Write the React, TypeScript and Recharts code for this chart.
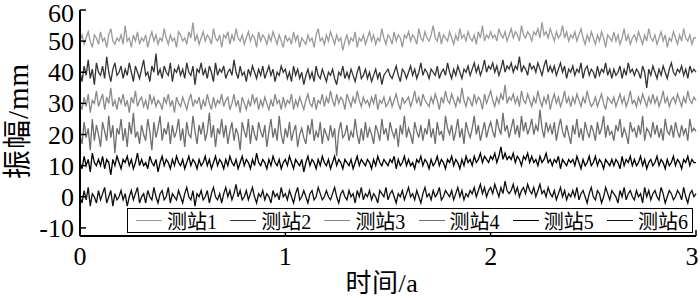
import { LineChart, Line, XAxis, YAxis, Legend } from 'recharts';

const FONT = "'Liberation Serif', 'Noto Sans CJK SC', serif";

const seriesNames = ['测站1', '测站2', '测站3', '测站4', '测站5', '测站6'];
const seriesColors = ['#9a9a9a', '#333333', '#8a8a8a', '#6e6e6e', '#000000', '#111111'];
const xTicks = [0, 1, 2, 3];
const yTicks = [-10, 0, 10, 20, 30, 40, 50, 60];

// amplitude (mm), one sample every 0.01 a
const s1 = [
  50, 52, 49, 51, 53, 50, 48, 52, 51, 49,
  53, 50, 51, 48, 52, 54, 50, 49, 51, 50,
  52, 49, 55, 50, 51, 48, 52, 50, 53, 49,
  51, 50, 52, 48, 51, 53, 50, 52, 49, 51,
  50, 54, 51, 49, 52, 50, 51, 48, 53, 52,
  50, 51, 49, 53, 51, 56, 50, 52, 49, 51,
  53, 50, 52, 51, 49, 54, 51, 50, 52, 48,
  52, 51, 53, 49, 52, 50, 54, 51, 50, 52,
  49, 51, 53, 50, 52, 51, 48, 53, 50, 52,
  51, 49, 52, 50, 53, 51, 49, 52, 50, 48,
  52, 50, 51, 49, 53, 50, 52, 48, 51, 50,
  49, 52, 50, 51, 48, 52, 54, 50, 51, 49,
  52, 50, 53, 51, 49, 52, 50, 51, 47, 50,
  52, 49, 51, 50, 53, 48, 51, 50, 52, 49,
  51, 53, 50, 52, 49, 51, 50, 54, 51, 49,
  52, 51, 49, 53, 50, 52, 51, 48, 52, 51,
  53, 50, 52, 51, 49, 54, 51, 50, 53, 51,
  50, 52, 55, 51, 50, 53, 49, 52, 51, 50,
  53, 51, 49, 52, 50, 54, 51, 52, 50, 53,
  51, 50, 52, 49, 53, 51, 55, 50, 52, 51,
  53, 51, 52, 50, 54, 52, 51, 53, 50, 52,
  54, 51, 53, 52, 50, 55, 52, 51, 53, 52,
  50, 53, 52, 54, 51, 56, 52, 53, 51, 54,
  52, 50, 53, 51, 52, 55, 51, 53, 50, 52,
  51, 53, 50, 52, 54, 51, 49, 52, 50, 53,
  51, 49, 52, 50, 53, 51, 48, 52, 51, 50,
  53, 50, 52, 49, 51, 54, 50, 52, 49, 51,
  52, 50, 53, 51, 49, 52, 50, 54, 51, 50,
  52, 49, 51, 53, 50, 52, 48, 51, 50, 53,
  51, 49, 52, 50, 54, 51, 50, 52, 49, 51,
  51,
];
const s2 = [
  40, 37, 42, 39, 44, 38, 41, 36, 43, 40,
  39, 42, 38, 45, 40, 37, 41, 43, 39, 40,
  42, 38, 41, 39, 43, 40, 37, 42, 40, 38,
  41, 44, 39, 40, 37, 42, 40, 46, 39, 41,
  38, 42, 40, 39, 43, 37, 41, 40, 42, 39,
  41, 38, 43, 40, 39, 42, 36, 41, 40, 43,
  39, 41, 38, 42, 40, 37, 43, 39, 41, 40,
  42, 38, 40, 41, 39, 44, 40, 38, 42, 39,
  40, 37, 41, 39, 42, 40, 38, 41, 39, 42,
  38, 40, 42, 39, 41, 37, 40, 39, 42, 40,
  41, 38, 40, 37, 42, 39, 41, 38, 40, 36,
  39, 41, 38, 40, 37, 42, 39, 38, 41, 39,
  37, 40, 39, 41, 38, 36, 40, 39, 42, 38,
  40, 38, 41, 39, 37, 40, 42, 38, 39, 41,
  38, 40, 37, 39, 41, 38, 40, 36, 39, 40,
  41, 39, 38, 40, 42, 39, 37, 41, 40, 38,
  40, 42, 39, 41, 38, 40, 43, 39, 41, 40,
  38, 41, 40, 39, 42, 38, 40, 41, 39, 43,
  40, 38, 41, 39, 42, 40, 38, 41, 40, 42,
  39, 41, 43, 40, 42, 39, 41, 44, 40, 42,
  41, 43, 40, 42, 39, 41, 44, 40, 42, 41,
  43, 40, 42, 41, 45, 40, 42, 41, 39, 43,
  41, 42, 40, 43, 41, 39, 42, 44, 40, 42,
  40, 42, 39, 41, 43, 40, 42, 38, 41, 40,
  42, 39, 41, 40, 43, 38, 41, 42, 39, 41,
  40, 38, 42, 39, 41, 40, 43, 39, 41, 38,
  41, 39, 40, 42, 38, 41, 39, 43, 40, 41,
  39, 41, 40, 38, 42, 40, 35, 41, 39, 42,
  40, 38, 41, 39, 42, 40, 38, 41, 43, 40,
  39, 41, 40, 42, 39, 41, 38, 42, 40, 41,
  40,
];
const s3 = [
  30, 28, 32, 29, 33, 27, 31, 30, 34, 29,
  31, 33, 28, 32, 30, 35, 29, 31, 28, 32,
  30, 33, 29, 31, 27, 32, 30, 34, 29, 31,
  32, 29, 31, 28, 33, 30, 32, 29, 31, 30,
  28, 32, 30, 33, 29, 31, 27, 32, 30, 29,
  32, 30, 28, 31, 33, 29, 31, 30, 32, 28,
  31, 29, 33, 30, 28, 32, 29, 31, 30, 33,
  29, 31, 32, 28, 30, 33, 29, 31, 27, 32,
  30, 28, 31, 29, 33, 30, 32, 28, 31, 29,
  32, 30, 28, 31, 29, 33, 30, 31, 28, 32,
  29, 31, 30, 33, 28, 31, 29, 32, 30, 28,
  31, 33, 30, 29, 32, 28, 31, 30, 33, 29,
  32, 30, 34, 31, 29, 33, 30, 32, 31, 28,
  33, 31, 29, 32, 30, 34, 31, 29, 32, 30,
  31, 29, 32, 30, 33, 28, 31, 30, 32, 29,
  30, 32, 29, 31, 33, 30, 28, 32, 30, 31,
  32, 29, 31, 34, 30, 32, 29, 33, 31, 30,
  29, 32, 30, 33, 31, 28, 32, 30, 34, 31,
  30, 33, 31, 29, 32, 30, 35, 31, 29, 32,
  31, 29, 33, 30, 32, 31, 28, 33, 30, 32,
  34, 31, 29, 32, 30, 33, 31, 36, 30, 32,
  31, 33, 30, 32, 29, 34, 31, 30, 33, 31,
  29, 32, 30, 34, 31, 29, 32, 30, 33, 28,
  31, 33, 30, 32, 29, 31, 34, 30, 32, 29,
  32, 30, 33, 31, 29, 32, 30, 34, 31, 29,
  30, 32, 29, 31, 33, 30, 28, 32, 31, 30,
  32, 29, 31, 33, 30, 32, 29, 31, 34, 30,
  31, 29, 32, 30, 33, 31, 29, 32, 30, 33,
  30, 32, 29, 31, 34, 30, 32, 29, 31, 32,
  30, 33, 31, 29, 32, 30, 34, 31, 30, 32,
  31,
];
const s4 = [
  20, 17, 24, 19, 22, 15, 25, 18, 23, 20,
  16, 24, 21, 18, 26, 19, 23, 14, 22, 20,
  25, 18, 22, 16, 24, 20, 27, 19, 21, 17,
  23, 20, 18, 25, 21, 15, 24, 19, 22, 26,
  18, 22, 20, 24, 17, 23, 19, 21, 25, 18,
  22, 16, 24, 20, 19, 26, 21, 17, 23, 20,
  24, 18, 21, 27, 19, 23, 16, 22, 20, 25,
  19, 23, 17, 21, 24, 18, 22, 20, 15, 24,
  21, 19, 25, 17, 23, 20, 18, 24, 21, 19,
  23, 16, 21, 25, 19, 22, 18, 26, 20, 17,
  22, 19, 24, 18, 21, 23, 16, 20, 22, 19,
  17, 23, 20, 25, 18, 21, 19, 24, 17, 22,
  20, 18, 23, 19, 22, 13, 21, 24, 19, 20,
  23, 18, 21, 19, 25, 20, 17, 22, 18, 24,
  19, 22, 20, 17, 23, 21, 18, 25, 20, 22,
  18, 24, 21, 19, 22, 16, 23, 20, 26, 19,
  22, 20, 17, 24, 21, 19, 23, 18, 22, 20,
  25, 19, 22, 17, 24, 20, 21, 18, 26, 22,
  20, 23, 18, 21, 25, 19, 22, 17, 24, 21,
  19, 22, 26, 20, 23, 18, 21, 24, 19, 22,
  24, 21, 19, 25, 22, 20, 27, 21, 23, 19,
  22, 25, 20, 23, 19, 26, 21, 24, 20, 22,
  25, 20, 23, 21, 28, 22, 19, 24, 21, 23,
  20, 24, 18, 22, 25, 21, 19, 23, 20, 17,
  23, 20, 25, 19, 22, 18, 24, 21, 19, 23,
  21, 18, 24, 20, 22, 26, 19, 23, 20, 21,
  18, 23, 21, 25, 19, 22, 20, 17, 24, 21,
  22, 19, 23, 20, 26, 18, 22, 21, 19, 24,
  20, 23, 19, 22, 18, 25, 21, 20, 23, 19,
  24, 21, 19, 23, 20, 22, 18, 25, 21, 22,
  21,
];
const s5 = [
  11, 9, 13, 10, 12, 8, 14, 11, 10, 12,
  10, 13, 9, 12, 11, 7, 12, 10, 13, 11,
  9, 12, 11, 13, 10, 12, 9, 11, 14, 10,
  12, 10, 11, 9, 13, 11, 10, 12, 8, 11,
  13, 10, 12, 11, 9, 12, 10, 13, 11, 10,
  12, 9, 11, 13, 10, 12, 11, 9, 12, 10,
  11, 13, 10, 12, 9, 11, 13, 10, 12, 11,
  9, 12, 10, 13, 11, 10, 12, 9, 11, 13,
  10, 12, 11, 9, 12, 10, 14, 11, 10, 12,
  11, 9, 12, 10, 13, 11, 10, 12, 9, 11,
  12, 10, 13, 11, 9, 12, 11, 10, 12, 8,
  11, 13, 10, 12, 11, 9, 12, 10, 13, 11,
  10, 12, 9, 11, 13, 10, 12, 11, 9, 12,
  11, 10, 12, 9, 11, 13, 10, 12, 11, 10,
  12, 11, 9, 12, 10, 13, 11, 10, 12, 11,
  10, 12, 11, 13, 9, 12, 10, 11, 13, 10,
  12, 10, 11, 9, 12, 11, 13, 10, 12, 11,
  9, 12, 10, 11, 13, 10, 12, 11, 9, 12,
  11, 13, 10, 12, 11, 9, 12, 10, 13, 11,
  12, 10, 13, 11, 12, 14, 11, 13, 12, 11,
  13, 12, 14, 11, 13, 16, 12, 14, 12, 13,
  12, 14, 11, 13, 12, 10, 13, 12, 14, 11,
  13, 11, 12, 10, 13, 11, 12, 14, 11, 12,
  10, 12, 11, 13, 9, 12, 11, 10, 12, 11,
  12, 10, 13, 11, 9, 12, 10, 11, 13, 10,
  11, 13, 10, 12, 11, 9, 12, 11, 10, 12,
  10, 12, 11, 9, 13, 10, 12, 11, 13, 10,
  12, 10, 11, 13, 10, 12, 9, 11, 12, 10,
  11, 13, 10, 12, 11, 9, 12, 10, 11, 13,
  10, 12, 11, 9, 12, 11, 13, 10, 12, 11,
  11,
];
const s6 = [
  0, -2, 2, -1, 3, -3, 1, 0, -2, 2,
  -1, 1, 3, -2, 0, 2, -3, 1, -1, 0,
  2, -1, 1, -3, 0, 2, -1, 1, 3, -2,
  0, 1, -2, 2, 0, -1, 3, 0, -2, 1,
  2, -1, 0, 3, -2, 1, 0, -1, 2, 0,
  -2, 1, 3, 0, -1, 2, -3, 1, 0, 2,
  -1, 0, 2, -2, 1, 3, 0, -1, 1, -2,
  1, 3, 0, 2, -1, 1, 4, 0, 2, -1,
  0, 2, -1, 1, 3, 0, -2, 1, 0, 2,
  -1, 1, 0, -2, 2, 0, 1, -1, 3, 0,
  1, -1, 2, 0, -2, 1, 3, -1, 0, 2,
  0, -2, 1, 2, -1, 0, 3, 1, -1, 0,
  2, 0, -1, 1, 3, 0, -2, 1, 2, 0,
  -1, 2, 0, 1, -2, 2, 0, 3, -1, 1,
  0, 2, -1, 1, 0, -2, 2, 1, 0, 3,
  -1, 1, 2, 0, -2, 1, 0, 2, -1, 1,
  3, 0, 1, -1, 2, 0, -2, 1, 3, 0,
  1, -1, 2, 0, 1, 3, -1, 0, 2, 1,
  0, 2, -1, 1, 3, 0, 2, -1, 1, 0,
  2, 1, 3, 0, 2, 4, 1, 3, 0, 2,
  3, 1, 4, 2, 0, 3, 1, 5, 2, 1,
  2, 4, 1, 3, 0, 2, 3, 1, 4, 2,
  1, 3, 0, 2, 4, 1, 2, 0, 3, 1,
  0, 2, -1, 1, 3, 0, 2, -1, 1, 0,
  2, 0, 3, -1, 1, 2, 0, -2, 1, 3,
  0, -1, 2, 1, -2, 0, 3, 1, -1, 2,
  1, 0, -2, 2, 0, 3, -1, 1, 2, 0,
  -1, 2, 0, 1, -2, 3, 0, 2, -1, 1,
  2, 0, -1, 3, 1, -2, 0, 2, 1, -1,
  0, 2, 1, -1, 3, 0, -2, 1, 2, 0,
  1,
];

const allSeries = [s1, s2, s3, s4, s5, s6];
const data = s1.map((_, i) => {
  const row: Record<string, number> = { t: (i * 3) / (s1.length - 1) };
  allSeries.forEach((s, k) => { row[seriesNames[k]] = s[i]; });
  return row;
});

function LegendBox() {
  return (
    <div style={{
      display: 'flex', alignItems: 'center', justifyContent: 'space-between',
      border: '1.5px solid #000', background: '#fff', height: 25,
      padding: '0 4px 0 8px', boxSizing: 'border-box',
      fontFamily: FONT, fontSize: 20, color: '#000',
    }}>
      {seriesNames.map((n, k) => (
        <span key={n} style={{ display: 'flex', alignItems: 'center', whiteSpace: 'nowrap' }}>
          <span style={{ display: 'inline-block', width: 26, height: 0, borderTop: `1.5px solid ${seriesColors[k]}`, marginRight: 5 }} />
          {n}
        </span>
      ))}
    </div>
  );
}

function YTitle(props: any) {
  const vb = props.viewBox || { x: 0, y: 10, height: 226 };
  const cx = vb.x + 18;
  const cy = vb.y + vb.height / 2 - 2;
  return (
    <text
      x={cx}
      y={cy}
      transform={`rotate(-90, ${cx}, ${cy})`}
      textAnchor="middle"
      dominantBaseline="central"
      fontSize={29}
      letterSpacing={1}
      fontFamily={FONT}
      fill="#000"
    >
      振幅/mm
    </text>
  );
}

// x tick labels; the last one is nudged left so it stays inside the picture
function XTick(props: any) {
  const { x, y, payload } = props;
  const shift = payload.value === 3 ? -4 : 0;
  return (
    <text x={x + shift} y={y} dy="0.71em" textAnchor="middle" fontSize={26} fontFamily={FONT} fill="#000">
      {payload.value}
    </text>
  );
}

// y tick labels; the top one is nudged down so it is not clipped
function YTick(props: any) {
  const { x, y, payload } = props;
  const shift = payload.value === 60 ? 3 : 0;
  return (
    <text x={x} y={y + shift} dy="0.35em" textAnchor="end" fontSize={26} fontFamily={FONT} fill="#000">
      {payload.value}
    </text>
  );
}

export default function App() {
  return (
    <div style={{ position: 'absolute', left: 0, top: 0, background: '#fff' }}>
      <LineChart width={700} height={301} data={data} margin={{ top: 10, right: 4, left: 0, bottom: 0 }}>
        <XAxis
          dataKey="t"
          type="number"
          domain={[0, 3]}
          ticks={xTicks}
          interval={0}
          height={65}
          tickSize={-6}
          tickMargin={17}
          tick={<XTick />}
          axisLine={{ stroke: '#000', strokeWidth: 2 }}
          tickLine={{ stroke: '#000', strokeWidth: 1.5 }}
          label={{ value: '时间/a', position: 'insideBottom', offset: 9, dx: -6, fontSize: 26, letterSpacing: 0.5, fill: '#000', fontFamily: FONT }}
        />
        <XAxis
          xAxisId="top"
          orientation="top"
          dataKey="t"
          type="number"
          domain={[0, 3]}
          ticks={xTicks}
          interval={0}
          height={0}
          tickSize={-6}
          tickFormatter={() => ''}
          axisLine={{ stroke: '#000', strokeWidth: 2 }}
          tickLine={{ stroke: '#000', strokeWidth: 1.5 }}
        />
        <YAxis
          type="number"
          domain={[-12.6, 60]}
          ticks={yTicks}
          interval={0}
          width={80}
          tickSize={-6}
          tickMargin={12}
          tick={<YTick />}
          allowDataOverflow
          axisLine={{ stroke: '#000', strokeWidth: 2 }}
          tickLine={{ stroke: '#000', strokeWidth: 1.5 }}
          label={<YTitle />}
        />
        <YAxis
          yAxisId="right"
          orientation="right"
          type="number"
          domain={[-12.6, 60]}
          ticks={yTicks}
          interval={0}
          width={0}
          tickSize={-6}
          tickFormatter={() => ''}
          allowDataOverflow
          axisLine={{ stroke: '#000', strokeWidth: 2 }}
          tickLine={{ stroke: '#000', strokeWidth: 1.5 }}
        />
        {seriesNames.map((n, k) => (
          <Line
            key={n}
            type="linear"
            dataKey={n}
            stroke={seriesColors[k]}
            strokeWidth={1.3}
            dot={false}
            isAnimationActive={false}
          />
        ))}
        <Legend
          layout="horizontal"
          verticalAlign="middle"
          align="center"
          content={() => <LegendBox />}
          wrapperStyle={{ left: 127, top: 208, width: 566, height: 25 }}
        />
      </LineChart>
    </div>
  );
}
